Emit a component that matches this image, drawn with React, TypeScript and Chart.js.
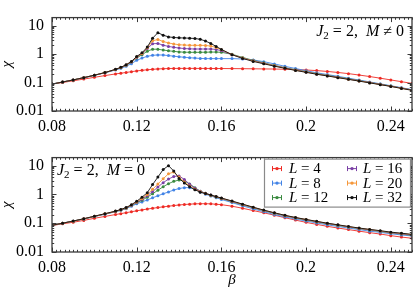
import React, { useEffect, useRef } from "react";
import { Chart, registerables } from "chart.js";

Chart.register(...registerables);

// ---------- data ----------
const BETA = [
  0.08, 0.085, 0.09, 0.095, 0.1, 0.105, 0.11,
  0.1125, 0.115, 0.1175, 0.12, 0.1225, 0.125, 0.1275, 0.13, 0.1325, 0.135,
  0.1375, 0.14, 0.1425, 0.145, 0.1475, 0.15, 0.1525, 0.155, 0.1575, 0.16,
  0.165, 0.17, 0.175, 0.18, 0.185, 0.19, 0.195, 0.2, 0.205, 0.21, 0.215,
  0.22, 0.225, 0.23, 0.235, 0.24, 0.245, 0.25,
];

const L_VALUES = [4, 8, 12, 16, 20, 32];
const COLORS = ["#ee2b25", "#4384e6", "#3a8a3f", "#7a3fa5", "#f5973a", "#111111"];

// J2 = 2, M != 0 (upper panel)
const TOP_L4 = [0.088, 0.1, 0.115, 0.132, 0.152, 0.175, 0.2, 0.212, 0.225, 0.24, 0.255, 0.268, 0.28, 0.29, 0.3, 0.305, 0.31, 0.312, 0.313, 0.313, 0.313, 0.313, 0.312, 0.312, 0.311, 0.31, 0.31, 0.308, 0.306, 0.303, 0.3, 0.297, 0.292, 0.285, 0.275, 0.262, 0.245, 0.225, 0.205, 0.183, 0.162, 0.142, 0.123, 0.107, 0.093];
const TOP_L8 = [0.088, 0.104, 0.123, 0.147, 0.178, 0.218, 0.275, 0.315, 0.37, 0.46, 0.6, 0.72, 0.83, 0.9, 0.93, 0.92, 0.88, 0.84, 0.8, 0.77, 0.74, 0.72, 0.7, 0.69, 0.69, 0.69, 0.69, 0.69, 0.67, 0.62, 0.54, 0.45, 0.37, 0.31, 0.26, 0.22, 0.19, 0.165, 0.142, 0.122, 0.105, 0.09, 0.077, 0.066, 0.056];
const TOP_L12 = [0.088, 0.104, 0.123, 0.148, 0.18, 0.222, 0.285, 0.33, 0.4, 0.52, 0.72, 0.95, 1.25, 1.48, 1.47, 1.38, 1.3, 1.24, 1.19, 1.16, 1.15, 1.15, 1.15, 1.16, 1.17, 1.17, 1.15, 0.98, 0.76, 0.6, 0.49, 0.4, 0.33, 0.28, 0.24, 0.205, 0.178, 0.155, 0.135, 0.117, 0.101, 0.087, 0.075, 0.064, 0.055];
const TOP_L16 = [0.088, 0.104, 0.123, 0.148, 0.18, 0.222, 0.287, 0.335, 0.41, 0.53, 0.76, 1.02, 1.55, 2.3, 2.35, 2.05, 1.85, 1.72, 1.62, 1.56, 1.52, 1.5, 1.5, 1.5, 1.5, 1.45, 1.3, 0.95, 0.73, 0.58, 0.475, 0.39, 0.325, 0.275, 0.235, 0.2, 0.174, 0.152, 0.132, 0.115, 0.1, 0.086, 0.074, 0.064, 0.055];
const TOP_L20 = [0.088, 0.104, 0.123, 0.148, 0.18, 0.223, 0.288, 0.337, 0.415, 0.54, 0.78, 1.05, 1.65, 2.9, 3.25, 2.75, 2.45, 2.25, 2.12, 2.06, 2.03, 2.02, 2.02, 2.0, 1.9, 1.7, 1.42, 0.95, 0.72, 0.57, 0.465, 0.385, 0.32, 0.27, 0.232, 0.198, 0.172, 0.15, 0.131, 0.114, 0.099, 0.085, 0.074, 0.063, 0.054];
const TOP_L32 = [0.088, 0.104, 0.123, 0.148, 0.18, 0.224, 0.29, 0.34, 0.42, 0.55, 0.82, 1.1, 1.75, 3.6, 5.6, 4.6, 4.0, 3.8, 3.7, 3.65, 3.6, 3.5, 3.3, 2.85, 2.35, 1.85, 1.45, 0.95, 0.7, 0.55, 0.455, 0.375, 0.315, 0.265, 0.228, 0.195, 0.17, 0.148, 0.129, 0.112, 0.097, 0.084, 0.073, 0.062, 0.053];

// J2 = 2, M = 0 (lower panel)
const BOT_L4 = [0.083, 0.095, 0.108, 0.125, 0.148, 0.172, 0.2, 0.215, 0.232, 0.25, 0.27, 0.29, 0.31, 0.33, 0.35, 0.37, 0.39, 0.41, 0.43, 0.445, 0.46, 0.47, 0.475, 0.475, 0.47, 0.455, 0.44, 0.39, 0.33, 0.275, 0.23, 0.19, 0.155, 0.128, 0.107, 0.091, 0.078, 0.068, 0.06, 0.053, 0.047, 0.042, 0.037, 0.033, 0.03];
const BOT_L8 = [0.085, 0.1, 0.118, 0.14, 0.17, 0.205, 0.25, 0.28, 0.32, 0.39, 0.47, 0.55, 0.64, 0.76, 0.9, 1.05, 1.22, 1.42, 1.6, 1.72, 1.72, 1.5, 1.22, 1.02, 0.88, 0.77, 0.67, 0.52, 0.4, 0.315, 0.25, 0.2, 0.165, 0.139, 0.119, 0.102, 0.088, 0.077, 0.068, 0.06, 0.053, 0.048, 0.043, 0.039, 0.036];
const BOT_L12 = [0.085, 0.1, 0.118, 0.141, 0.172, 0.208, 0.255, 0.288, 0.33, 0.41, 0.51, 0.63, 0.8, 1.05, 1.4, 1.85, 2.35, 2.85, 3.15, 2.95, 2.3, 1.7, 1.3, 1.09, 0.94, 0.82, 0.72, 0.56, 0.435, 0.343, 0.273, 0.22, 0.18, 0.151, 0.129, 0.111, 0.096, 0.084, 0.074, 0.065, 0.058, 0.052, 0.046, 0.042, 0.038];
const BOT_L16 = [0.085, 0.1, 0.118, 0.142, 0.173, 0.21, 0.258, 0.292, 0.335, 0.42, 0.53, 0.68, 0.9, 1.25, 1.8, 2.55, 3.4, 4.2, 4.4, 3.3, 2.25, 1.65, 1.28, 1.1, 0.95, 0.83, 0.73, 0.57, 0.445, 0.35, 0.278, 0.225, 0.184, 0.154, 0.132, 0.113, 0.098, 0.086, 0.075, 0.066, 0.059, 0.053, 0.047, 0.043, 0.039];
const BOT_L20 = [0.085, 0.1, 0.118, 0.142, 0.174, 0.212, 0.26, 0.295, 0.34, 0.43, 0.55, 0.72, 1.0, 1.5, 2.3, 3.5, 5.2, 6.0, 4.0, 2.7, 1.95, 1.52, 1.23, 1.08, 0.94, 0.83, 0.74, 0.58, 0.45, 0.355, 0.282, 0.228, 0.186, 0.156, 0.134, 0.115, 0.099, 0.087, 0.076, 0.067, 0.06, 0.054, 0.048, 0.044, 0.04];
const BOT_L32 = [0.085, 0.1, 0.119, 0.143, 0.175, 0.214, 0.263, 0.3, 0.35, 0.44, 0.58, 0.8, 1.15, 2.2, 4.0, 7.3, 10.0, 6.5, 3.6, 2.5, 1.85, 1.45, 1.2, 1.07, 0.95, 0.84, 0.75, 0.59, 0.46, 0.36, 0.285, 0.23, 0.188, 0.158, 0.135, 0.116, 0.1, 0.088, 0.077, 0.068, 0.061, 0.055, 0.049, 0.045, 0.041];

const TOP_SERIES = [TOP_L4, TOP_L8, TOP_L12, TOP_L16, TOP_L20, TOP_L32];
const BOT_SERIES = [BOT_L4, BOT_L8, BOT_L12, BOT_L16, BOT_L20, BOT_L32];

const X_MIN = 0.08;
const X_MAX = 0.25;
const X_TICKS = [0.08, 0.12, 0.16, 0.2, 0.24];
const X_TICK_LABELS = ["0.08", "0.12", "0.16", "0.2", "0.24"];
const X_MINOR_STEP = 0.002;
const Y_MIN = 0.01;
const Y_MAX = 19;
const Y_TICKS = [0.01, 0.1, 1, 10];
const Y_TICK_LABELS = ["0.01", "0.1", "1", "10"];

const FONT = '"Liberation Serif", "DejaVu Serif", serif';
const FRAME_COLOR = "#3a3a3a";

type Seg = { t: string; it?: boolean; sub?: boolean };

const TOP_NOTE: Seg[] = [
  { t: "J", it: true }, { t: "2", sub: true }, { t: " = 2,  " }, { t: "M", it: true }, { t: " \u2260 0" },
];
const BOT_NOTE: Seg[] = [
  { t: "J", it: true }, { t: "2", sub: true }, { t: " = 2,  " }, { t: "M", it: true }, { t: " = 0" },
];

function drawRich(ctx: CanvasRenderingContext2D, segs: Seg[], x: number, y: number, size: number, align: "left" | "right") {
  const fontFor = (s: Seg) => `${s.it ? "italic " : ""}${s.sub ? Math.round(size * 0.7) : size}px ${FONT}`;
  let total = 0;
  for (const s of segs) {
    ctx.font = fontFor(s);
    total += ctx.measureText(s.t).width;
  }
  let cx = align === "right" ? x - total : x;
  ctx.textBaseline = "alphabetic";
  ctx.textAlign = "left";
  ctx.fillStyle = "#000";
  for (const s of segs) {
    ctx.font = fontFor(s);
    ctx.fillText(s.t, cx, s.sub ? y + size * 0.22 : y);
    cx += ctx.measureText(s.t).width;
  }
}

const frameTicksPlugin = {
  id: "frameTicks",
  afterDatasetsDraw(chart: any) {
    const { ctx, chartArea: a } = chart;
    const xs = chart.scales.x;
    const ys = chart.scales.y;
    const MAJ = 4.5;
    const MIN = 2.2;
    ctx.save();
    ctx.strokeStyle = FRAME_COLOR;
    ctx.lineWidth = 1;
    ctx.beginPath();
    const n = Math.round((X_MAX - X_MIN) / X_MINOR_STEP);
    for (let k = 0; k <= n; k++) {
      const v = X_MIN + k * X_MINOR_STEP;
      const major = X_TICKS.some((t) => Math.abs(t - v) < 1e-9);
      const len = major ? MAJ : MIN;
      const px = Math.round(xs.getPixelForValue(v)) + 0.5;
      ctx.moveTo(px, a.bottom);
      ctx.lineTo(px, a.bottom - len);
      ctx.moveTo(px, a.top);
      ctx.lineTo(px, a.top + len);
    }
    for (let d = -2; d <= 1; d++) {
      for (let m = 1; m <= 9; m++) {
        const v = m * Math.pow(10, d);
        if (v < Y_MIN * 0.999 || v > Y_MAX) continue;
        const len = m === 1 ? MAJ : MIN;
        const py = Math.round(ys.getPixelForValue(v)) + 0.5;
        ctx.moveTo(a.left, py);
        ctx.lineTo(a.left + len, py);
        ctx.moveTo(a.right, py);
        ctx.lineTo(a.right - len, py);
      }
    }
    ctx.stroke();
    ctx.lineWidth = 1.3;
    ctx.strokeRect(a.left, a.top, a.right - a.left, a.bottom - a.top);
    ctx.restore();
  },
};

function makeNotePlugin(segs: Seg[], where: "topright" | "topleft") {
  return {
    id: "note",
    afterDraw(chart: any) {
      const { ctx, chartArea: a } = chart;
      ctx.save();
      if (where === "topright") drawRich(ctx, segs, a.right - 8, a.top + 18, 16, "right");
      else drawRich(ctx, segs, a.left + 5, a.top + 17, 16, "left");
      ctx.restore();
    },
  };
}

const boxLegendPlugin = {
  id: "boxLegend",
  afterDraw(chart: any) {
    const { ctx, chartArea: a } = chart;
    const right = a.right - 2;
    const left = right - 146;
    const top = a.top + 1;
    const bottom = a.top + 49;
    ctx.save();
    ctx.fillStyle = "#fff";
    ctx.fillRect(left, top, right - left, bottom - top);
    ctx.strokeStyle = "#8a8a8a";
    ctx.lineWidth = 1.2;
    ctx.strokeRect(left + 0.5, top + 0.5, right - left, bottom - top);
    chart.data.datasets.forEach((ds: any, i: number) => {
      const col = Math.floor(i / 3);
      const row = i % 3;
      const cy = top + 9.5 + row * 14.5;
      const mx = left + 13 + col * 75;
      const tx = left + 25 + col * 74;
      ctx.strokeStyle = ds.borderColor;
      ctx.fillStyle = ds.borderColor;
      ctx.lineWidth = 1;
      ctx.beginPath();
      ctx.moveTo(mx - 5, cy + 0.5);
      ctx.lineTo(mx + 5, cy + 0.5);
      ctx.moveTo(mx - 5 + 0.5, cy - 2);
      ctx.lineTo(mx - 5 + 0.5, cy + 3);
      ctx.moveTo(mx + 5 - 0.5, cy - 2);
      ctx.lineTo(mx + 5 - 0.5, cy + 3);
      ctx.stroke();
      ctx.beginPath();
      ctx.arc(mx, cy + 0.5, 1.7, 0, Math.PI * 2);
      ctx.fill();
      drawRich(ctx, [{ t: "L", it: true }, { t: " = " + L_VALUES[i] }], tx, cy + 5, 15, "left");
    });
    ctx.restore();
  },
};

function buildConfig(series: number[][], bottom: boolean): any {
  const datasets = series.map((vals, i) => ({
    label: "L = " + L_VALUES[i],
    data: BETA.map((b, j) => ({ x: b, y: vals[j] })),
    borderColor: COLORS[i],
    backgroundColor: COLORS[i],
    borderWidth: 0.9,
    pointRadius: 1.5,
    pointHoverRadius: 1.5,
    pointBorderWidth: 0,
    tension: 0,
    order: series.length - i,
  }));
  const tickFont = { family: FONT, size: 16 };
  const plugins: any[] = [frameTicksPlugin, makeNotePlugin(bottom ? BOT_NOTE : TOP_NOTE, bottom ? "topleft" : "topright")];
  if (bottom) plugins.push(boxLegendPlugin);
  return {
    type: "line",
    data: { datasets },
    plugins,
    options: {
      responsive: false,
      animation: false,
      devicePixelRatio: 1,
      events: [],
      layout: { padding: { top: bottom ? 4 : 2, right: 3, left: 0, bottom: 0 } },
      plugins: { legend: { display: false }, tooltip: { enabled: false } },
      scales: {
        x: {
          type: "linear",
          min: X_MIN,
          max: X_MAX,
          grid: { display: false, drawTicks: false },
          border: { display: false },
          ticks: {
            font: tickFont,
            color: "#000",
            padding: 6,
            maxRotation: 0,
            autoSkip: false,
            callback: (_v: any, idx: number) => X_TICK_LABELS[idx],
          },
          afterBuildTicks: (s: any) => {
            s.ticks = X_TICKS.map((v) => ({ value: v }));
          },
          afterFit: (s: any) => {
            s.height = bottom ? 36 : 29;
          },
          title: {
            display: bottom,
            text: "\u03b2",
            color: "#000",
            font: { family: FONT, size: 15, style: "italic", lineHeight: 1 },
            padding: { top: 0, bottom: 0 },
          },
        },
        y: {
          type: "logarithmic",
          min: Y_MIN,
          max: Y_MAX,
          grid: { display: false, drawTicks: false },
          border: { display: false },
          ticks: {
            font: tickFont,
            color: "#000",
            padding: 8,
            autoSkip: false,
            callback: (_v: any, idx: number) => Y_TICK_LABELS[idx],
          },
          afterBuildTicks: (s: any) => {
            s.ticks = Y_TICKS.map((v) => ({ value: v }));
          },
          afterFit: (s: any) => {
            s.width = 52;
          },
          title: {
            display: true,
            text: "\u03c7",
            color: "#000",
            font: { family: FONT, size: 15, style: "italic", lineHeight: 1 },
            padding: { top: 0, bottom: 0 },
          },
        },
      },
    },
  };
}

function Panel({ series, bottom, height, top }: { series: number[][]; bottom: boolean; height: number; top: number }) {
  const ref = useRef<HTMLCanvasElement | null>(null);
  useEffect(() => {
    if (!ref.current) return;
    const chart = new Chart(ref.current, buildConfig(series, bottom));
    return () => chart.destroy();
  }, [series, bottom]);
  return (
    <canvas
      ref={ref}
      width={415}
      height={height}
      style={{ position: "absolute", left: 0, top, width: 415, height, display: "block" }}
    />
  );
}

export default function App() {
  return (
    <div style={{ position: "fixed", left: 0, top: 0, width: 415, height: 288, background: "#fff", overflow: "hidden" }}>
      <Panel series={TOP_SERIES} bottom={false} height={140} top={0} />
      <Panel series={BOT_SERIES} bottom={true} height={148} top={140} />
    </div>
  );
}
